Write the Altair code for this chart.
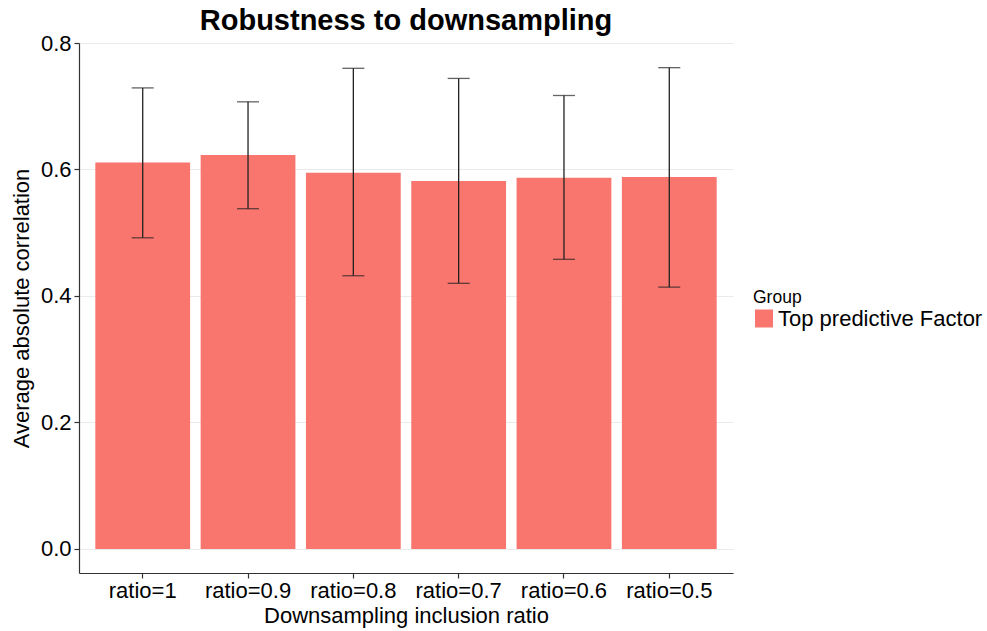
import altair as alt
import pandas as pd

# Downsampling robustness: mean absolute correlation with error bars
ratios = ["ratio=1", "ratio=0.9", "ratio=0.8", "ratio=0.7", "ratio=0.6", "ratio=0.5"]
mean_corr = [0.611, 0.623, 0.595, 0.582, 0.587, 0.588]
err_low = [0.492, 0.538, 0.432, 0.420, 0.458, 0.414]
err_high = [0.729, 0.707, 0.760, 0.744, 0.717, 0.761]
group = ["Top predictive Factor"] * len(ratios)

df = pd.DataFrame({
    "ratio": ratios,
    "corr": mean_corr,
    "lo": err_low,
    "hi": err_high,
    "Group": group,
})

FONT = "Liberation Sans"
RED = "#F8766D"

x_enc = alt.X(
    "ratio:N",
    sort=ratios,
    title="Downsampling inclusion ratio",
    scale=alt.Scale(paddingInner=0.1, paddingOuter=0.155),
    axis=alt.Axis(
        labelAngle=0, labelFontSize=22, titleFontSize=22,
        labelPadding=2, titlePadding=4, bandPosition=0.5,
    ),
)

y_scale = alt.Scale(domain=[-0.038, 0.8], nice=False, zero=False)

bars = alt.Chart(df).mark_bar(stroke=None).encode(
    x=x_enc,
    y=alt.Y(
        "corr:Q",
        scale=y_scale,
        title="Average absolute correlation",
        axis=alt.Axis(
            values=[0, 0.2, 0.4, 0.6, 0.8], format=".1f",
            labelFontSize=22, titleFontSize=22, labelPadding=3, titlePadding=7,
        ),
    ),
    y2=alt.datum(0),
    color=alt.Color(
        "Group:N",
        scale=alt.Scale(range=[RED]),
        legend=alt.Legend(
            title="Group", orient="none", legendX=674, legendY=246,
            symbolType="square", symbolSize=324, symbolStrokeWidth=0,
            labelFontSize=22, titleFontSize=17.5, titleFontWeight="normal",
            titlePadding=1, labelOffset=3, labelLimit=0,
        ),
    ),
)

stems = alt.Chart(df).mark_rule(color="#222222", strokeWidth=1.3).encode(
    x=alt.X("ratio:N", sort=ratios),
    y=alt.Y("lo:Q", scale=y_scale),
    y2="hi:Q",
)

caps_hi = alt.Chart(df).mark_tick(color="#222222", size=22, thickness=1.3, orient="horizontal").encode(
    x=alt.X("ratio:N", sort=ratios),
    y=alt.Y("hi:Q", scale=y_scale),
)

caps_lo = alt.Chart(df).mark_tick(color="#222222", size=22, thickness=1.3, orient="horizontal").encode(
    x=alt.X("ratio:N", sort=ratios),
    y=alt.Y("lo:Q", scale=y_scale),
)

chart = (bars + stems + caps_hi + caps_lo).properties(
    width=654,
    height=530,
    title=alt.TitleParams(
        "Robustness to downsampling", fontSize=29, fontWeight="bold",
        anchor="middle", font=FONT, color="black", offset=8, dy=12,
    ),
    autosize=alt.AutoSizeParams(type="none"),
    padding={"left": 79, "top": 43, "right": 254, "bottom": 58},
).configure(
    font=FONT,
    background="white",
).configure_view(
    stroke=None,
).configure_axis(
    domainColor="#333333", domainWidth=1.2,
    tickColor="#333333", tickSize=5, tickWidth=1.2,
    gridColor="#ebebeb", gridWidth=1,
    labelColor="black", titleColor="black",
    labelFont=FONT, titleFont=FONT, titleFontWeight="normal",
).configure_legend(
    labelFont=FONT, titleFont=FONT, labelColor="black", titleColor="black",
)

chart.save("out.html", embed_options={"renderer": "svg", "actions": False})
